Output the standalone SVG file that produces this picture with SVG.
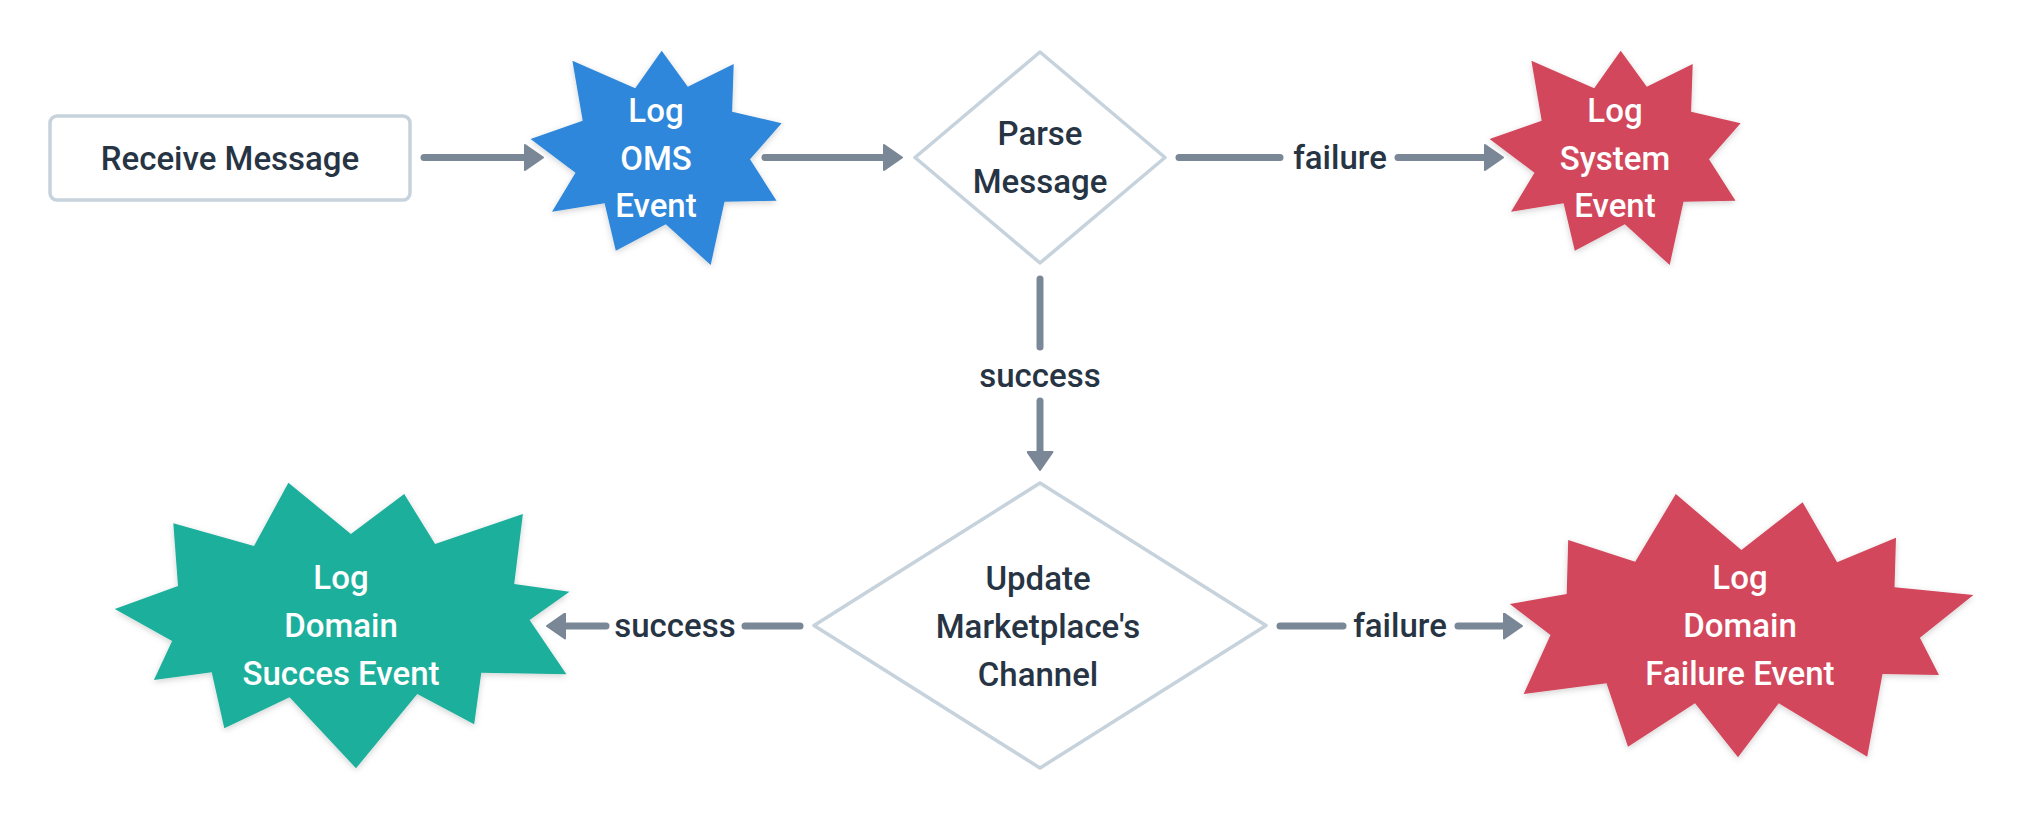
<svg xmlns="http://www.w3.org/2000/svg" xmlns:xlink="http://www.w3.org/1999/xlink" width="2024" height="820" viewBox="0 0 2024 820">
<style>
  text { font-family: Roboto, "Liberation Sans", Arial, sans-serif; font-weight: 500; font-size: 33px; text-anchor: middle; }
  .dark { fill: #273444; }
  .light { fill: #ffffff; }
  .box { fill: #ffffff; stroke: #c6d2dc; stroke-width: 3.5; }
  .diamond { fill: #ffffff; stroke: #c6d2dc; stroke-width: 3.5; stroke-linejoin: round; }
  .edge { stroke: #7a8796; stroke-width: 7; stroke-linecap: round; fill: none; }
  .star { filter: url(#shadow); }
</style>
<defs>
  <filter id="shadow" x="-20%" y="-20%" width="140%" height="140%">
    <feDropShadow dx="0" dy="2" stdDeviation="3" flood-color="#000000" flood-opacity="0.18"/>
  </filter>
  <marker id="arrow" viewBox="-1 -1 20 27" refX="0" refY="12.5" markerWidth="20" markerHeight="27" markerUnits="userSpaceOnUse" orient="auto">
    <path d="M0,0 L18,12.5 L0,25 Z" fill="#7a8796" stroke="#7a8796" stroke-width="2" stroke-linejoin="round"/>
  </marker>
  <polygon id="star9" points="661.7,50.7 687.8,86.7 733.7,64 732.1,111.7 781.6,123.3 750,159.3 776.5,200.7 724.5,201.7 710.7,265 665.8,224.3 615.8,250.7 604.6,203.3 552,211.7 575.5,172.7 530.6,139 582.7,120.7 572.4,60.7 635.2,88.3"/>
</defs>
<rect width="2024" height="820" fill="#ffffff"/>

<g id="connectors">
  <line class="edge" x1="424" y1="157.5" x2="525" y2="157.5" marker-end="url(#arrow)"/>
  <line class="edge" x1="765" y1="157.5" x2="884" y2="157.5" marker-end="url(#arrow)"/>
  <line class="edge" x1="1179" y1="157.5" x2="1280" y2="157.5"/>
  <text class="dark" x="1340" y="168.5">failure</text>
  <line class="edge" x1="1398" y1="157.5" x2="1485" y2="157.5" marker-end="url(#arrow)"/>
  <line class="edge" x1="1040" y1="279" x2="1040" y2="347"/>
  <text class="dark" x="1040" y="386.5">success</text>
  <line class="edge" x1="1040" y1="401" x2="1040" y2="452" marker-end="url(#arrow)"/>
  <line class="edge" x1="800" y1="626" x2="745" y2="626"/>
  <text class="dark" x="675" y="637">success</text>
  <line class="edge" x1="606" y1="626" x2="565" y2="626" marker-end="url(#arrow)"/>
  <line class="edge" x1="1280" y1="626" x2="1343" y2="626"/>
  <text class="dark" x="1400" y="637">failure</text>
  <line class="edge" x1="1458" y1="626" x2="1504" y2="626" marker-end="url(#arrow)"/>
</g>

<g id="receive-message">
  <rect class="box" x="50" y="116" width="360" height="84" rx="7"/>
  <text class="dark" x="230" y="170">Receive Message</text>
</g>

<g id="log-oms-event">
  <use xlink:href="#star9" class="star" fill="#2e87da"/>
  <text class="light" x="656" y="122">Log</text>
  <text class="light" x="656" y="169.5">OMS</text>
  <text class="light" x="656" y="217">Event</text>
</g>

<g id="parse-message">
  <path class="diamond" d="M1040,52 L1165,157.5 L1040,263 L915,157.5 Z"/>
  <text class="dark" x="1040" y="145">Parse</text>
  <text class="dark" x="1040" y="193">Message</text>
</g>

<g id="log-system-event">
  <use xlink:href="#star9" class="star" fill="#d3465b" transform="translate(959,0)"/>
  <text class="light" x="1615" y="122">Log</text>
  <text class="light" x="1615" y="169.5">System</text>
  <text class="light" x="1615" y="217">Event</text>
</g>

<g id="update-channel">
  <path class="diamond" d="M1040,483 L1266,625.5 L1040,768 L814,625.5 Z"/>
  <text class="dark" x="1038" y="590">Update</text>
  <text class="dark" x="1038" y="638">Marketplace's</text>
  <text class="dark" x="1038" y="686">Channel</text>
</g>

<g id="log-domain-success">
  <polygon class="star" fill="#1baf9c" points="288.4,482.7 350.9,534 404.2,494 435.1,544 522.9,514 514.2,584 569.5,591.7 529.6,620 566.4,674.3 481.3,672.7 474.2,724.3 417.3,694 356,768.3 289.6,697.3 224.3,728.3 211.7,672.3 153.9,680 172.1,641 114.8,609 178,586 173.3,523.3 254,546"/>
  <text class="light" x="341" y="589">Log</text>
  <text class="light" x="341" y="637">Domain</text>
  <text class="light" x="341" y="685">Succes Event</text>
</g>

<g id="log-domain-failure">
  <polygon class="star" fill="#d3465b" points="1675.8,494 1741.4,550 1802.6,502.3 1837.1,562.3 1896,537.7 1894.5,587.3 1973.4,595 1919.9,637.7 1939,675 1882.5,674 1867.2,756.7 1778.7,703.3 1738,757.3 1695,703.3 1628,746.7 1606.5,683.3 1523.7,694 1550.5,635 1509.8,604 1566.7,594 1568.2,540 1635.2,561.7"/>
  <text class="light" x="1740" y="589">Log</text>
  <text class="light" x="1740" y="637">Domain</text>
  <text class="light" x="1740" y="685">Failure Event</text>
</g>
</svg>
